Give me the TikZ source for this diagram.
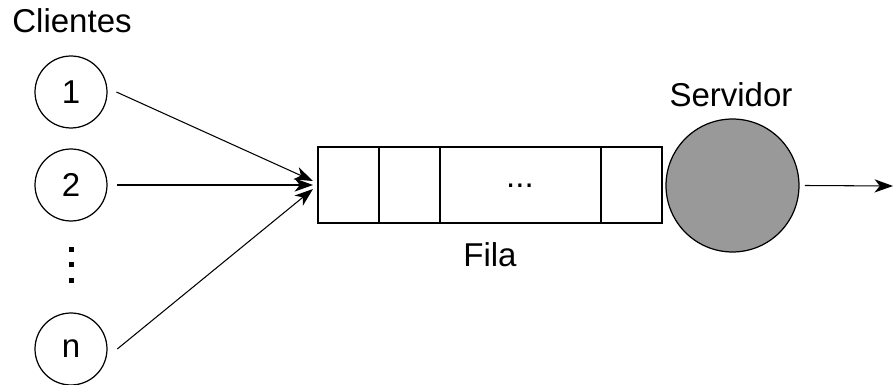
\documentclass[tikz,border=0pt]{standalone}
\usepackage{fontspec}
\setmainfont{Liberation Sans}
\usetikzlibrary{arrows.meta}

\tikzset{
    cliente/.style={draw, circle, line width=0.7pt, minimum size=1.44cm, inner sep=0pt},
    servidor/.style={draw, circle, line width=0.7pt, fill=gray!80, minimum size=2.66cm, inner sep=0pt},
    fila/.style={draw, rectangle, line width=0.8pt, minimum width=6.88cm, minimum height=1.52cm, inner sep=0pt},
    seta/.style={line width=0.6pt, -{Stealth[length=10.5pt, width=7.5pt, inset=3pt]}},
}

\begin{document}
\begin{tikzpicture}[x=0.02cm, y=-0.02cm, font=\fontsize{18.8}{22}\selectfont]
    \useasboundingbox (0,0) rectangle (894,385);

    % clientes
    \node[cliente] (c1) at (71,92) {1};
    \node[cliente] (c2) at (71,185) {2};
    \node[cliente] (cn) at (71,349) {n};
    \foreach \y in {249.5,265,281}
        \fill (68.5,\y-2.5) rectangle ++(5,5);
    \node[anchor=base west, inner sep=0pt] (tc) at (12,33) {Clientes};

    % fila
    \node[fila] (q) at (490,185) {};
    \draw[line width=0.8pt] (379,147) -- (379,223);
    \draw[line width=0.8pt] (440,147) -- (440,223);
    \draw[line width=0.8pt] (601,147) -- (601,223);
    \node[anchor=base, inner sep=0pt] (pts) at (520,188) {...};
    \node[anchor=base, inner sep=0pt] (tf) at (490,267) {Fila};

    % servidor
    \node[servidor] (s) at (732.5,185.5) {};
    \node[anchor=base, inner sep=0pt] (ts) at (731,107) {Servidor};

    % chegadas e saida
    \coordinate (e1) at (313,181);
    \coordinate (e2) at (313,185);
    \coordinate (en) at (313,189);
    \coordinate (saida) at (893,186);
    \draw[seta] ([xshift=5pt]c1.east) -- (e1);
    \draw[seta] ([xshift=5.5pt]c2.east) -- (e2);
    \draw[seta] ([xshift=5.5pt]cn.east) -- (en);
    \draw[seta] ([xshift=3pt]s.east) -- (saida);
\end{tikzpicture}
\end{document}
